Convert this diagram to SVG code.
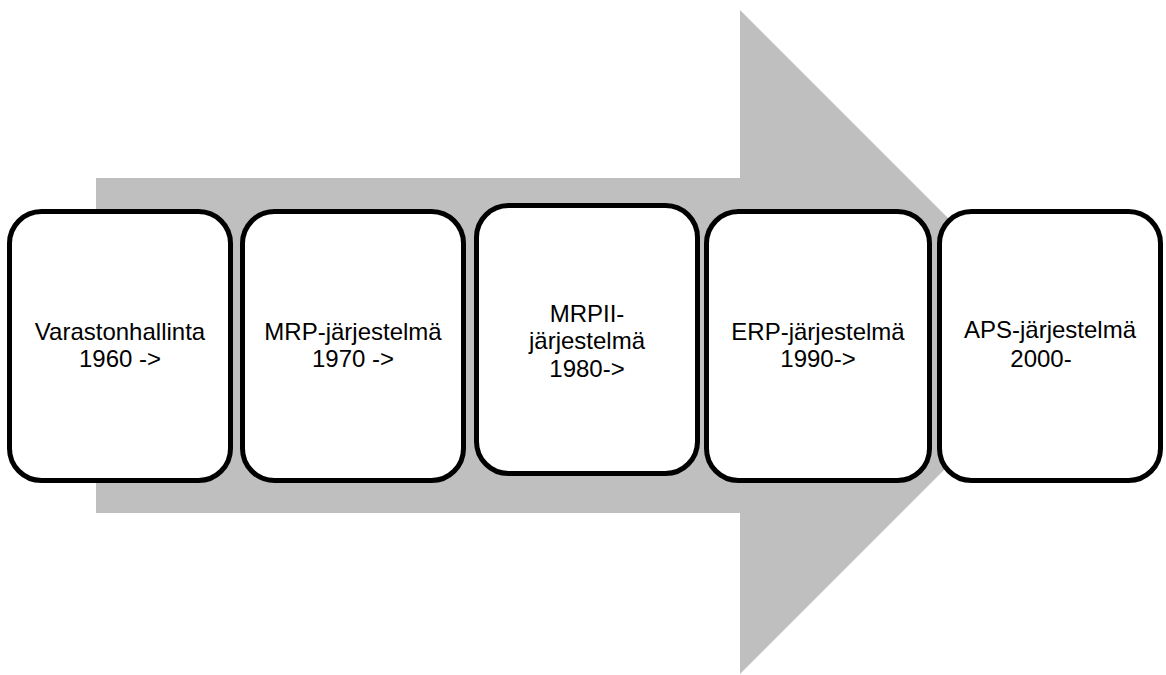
<svg xmlns="http://www.w3.org/2000/svg" width="1166" height="675" viewBox="0 0 1166 675">
<style>
.box{fill:#fff;stroke:#000;stroke-width:5}
.t{font-family:"Liberation Sans",Arial,sans-serif;font-size:24px;fill:#000;text-anchor:middle}
</style>
<rect width="1166" height="675" fill="#fff"/>
<g id="arrow">
<polygon points="96,178 740,178 740,10 1072,342 740,674 740,513 96,513" fill="#bfbfbf"/>
</g>
<g id="n1"><rect class="box" x="9.5" y="211.5" width="221" height="269" rx="32"/><text class="t" x="120" y="340">Varastonhallinta</text><text class="t" x="120" y="367">1960 -&gt;</text></g>
<g id="n2"><rect class="box" x="242.5" y="211.5" width="221" height="269" rx="32"/><text class="t" x="353" y="340">MRP-järjestelmä</text><text class="t" x="353" y="367">1970 -&gt;</text></g>
<g id="n3"><rect class="box" x="476.5" y="205.5" width="221" height="268" rx="32"/><text class="t" x="587" y="322">MRPII-</text><text class="t" x="587" y="349">järjestelmä</text><text class="t" x="587" y="377">1980-&gt;</text></g>
<g id="n4"><rect class="box" x="706.5" y="211.5" width="223" height="269" rx="32"/><text class="t" x="818" y="340">ERP-järjestelmä</text><text class="t" x="818" y="367">1990-&gt;</text></g>
<g id="n5"><rect class="box" x="939.5" y="211.5" width="221" height="269" rx="32"/><text class="t" x="1050" y="338">APS-järjestelmä</text><text class="t" x="1041" y="367">2000-</text></g>
</svg>
